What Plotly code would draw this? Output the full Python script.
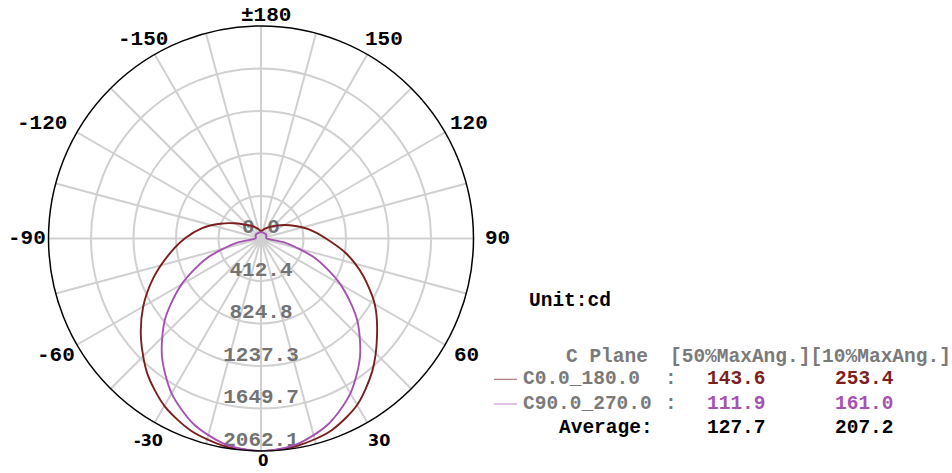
import plotly.graph_objects as go

# ---------------- data ----------------
theta_deg = [-180, -170, -160, -150, -140, -130, -120, -110, -100, -90,
             -80, -70, -60, -50, -40, -30, -20, -10, 0,
             10, 20, 30, 40, 50, 60, 70, 80, 90,
             100, 110, 120, 130, 140, 150, 160, 170, 180]

c0_180 = [70, 85, 105, 130, 165, 210, 295, 420, 580, 740,
          910, 1110, 1320, 1520, 1715, 1875, 1985, 2045, 2062,
          2042, 1985, 1865, 1680, 1470, 1275, 1055, 840, 630,
          485, 355, 262, 195, 150, 120, 100, 82, 70]

c90_270 = [60, 60, 60, 60, 62, 62, 60, 55, 50, 55,
           235, 560, 890, 1215, 1495, 1735, 1915, 2025, 2062,
           2025, 1915, 1735, 1495, 1215, 890, 560, 235, 55,
           50, 55, 60, 62, 62, 60, 60, 60, 60]

radial_ticks = [0.0, 412.4, 824.8, 1237.3, 1649.7, 2062.1]
radial_labels = ["0.0", "412.4", "824.8", "1237.3", "1649.7", "2062.1"]

ang_gridvals = list(range(0, 360, 15))
ang_label_text = ["0", "30", "60", "90", "120", "150", "±180",
                  "-150", "-120", "-90", "-60", "-30"]

unit_text = "Unit:cd"
header_plane = "C Plane"
header_cols = "[50%MaxAng.][10%MaxAng.]"
series_names = ["C0.0_180.0", "C90.0_270.0"]
beam50 = ["143.6", "111.9"]
beam10 = ["253.4", "161.0"]
avg_label = "Average:"
avg50 = "127.7"
avg10 = "207.2"

# ---------------- styles ----------------
W, H = 952, 473
FONT = "Liberation Mono"
RED = "#7b1f1f"
PURPLE = "#a652b2"
GRID = "#d0d0d0"
LABEL_GRAY = "#737373"
TEXT_GRAY = "#7a7a7a"

cx, cy, R = 261.0, 238.5, 212.5

# label placement offsets (pixels from the polar centre), one per angular label
ang_label_offset = [(2, 222), (117.5, 201.5), (205.7, 117), (236, 0.5),
                    (207.5, -115.5), (123, -198.7), (5, -223.5),
                    (-118.5, -198.7), (-219, -115.5), (-234.5, 0.5),
                    (-205.5, 116.5), (-112.5, 201.5)]
ang_label_font = {"0": ("DejaVu Sans", 15, "bold"),
                  "30": ("DejaVu Sans", 16, "bold"),
                  "-30": ("DejaVu Sans", 16, "bold")}

fig = go.Figure()

# radial value labels along the 0° spoke
fig.add_trace(go.Scatterpolar(
    r=radial_ticks, theta=[0] * len(radial_ticks), mode="text",
    text=radial_labels, textposition="top center",
    textfont=dict(family=FONT, size=21, color=LABEL_GRAY, weight="bold"),
    hoverinfo="skip", showlegend=False))

fig.add_trace(go.Scatterpolar(
    r=c0_180, theta=theta_deg, mode="lines", name=series_names[0],
    line=dict(color=RED, width=1.9, shape="spline", smoothing=0.8),
    showlegend=False))
fig.add_trace(go.Scatterpolar(
    r=c90_270, theta=theta_deg, mode="lines", name=series_names[1],
    line=dict(color=PURPLE, width=1.9, shape="spline", smoothing=0.8),
    showlegend=False))

fig.update_layout(
    width=W, height=H,
    margin=dict(l=0, r=0, t=0, b=0),
    paper_bgcolor="white",
    polar=dict(
        domain=dict(x=[(cx - R) / W, (cx + R) / W],
                    y=[(H - cy - R) / H, (H - cy + R) / H]),
        bgcolor="white",
        radialaxis=dict(range=[0, radial_ticks[-1]], tickvals=radial_ticks[1:],
                        showticklabels=False, ticks="", showline=False,
                        gridcolor=GRID, gridwidth=1.5),
        angularaxis=dict(rotation=-90, direction="counterclockwise",
                         tickvals=ang_gridvals, showticklabels=False,
                         ticks="", showline=True, linecolor="black", linewidth=1.5,
                         gridcolor=GRID, gridwidth=1.5),
    ),
)


def px(x):
    return x / W


def py(y):
    return 1 - y / H


def note(text, x, y, color, anchor="left", size=19.5, family=FONT, weight="bold"):
    fig.add_annotation(text=text, x=px(x), y=py(y), xref="paper", yref="paper",
                       xanchor=anchor, yanchor="middle", showarrow=False, borderpad=0,
                       font=dict(family=family, size=size, color=color, weight=weight))


# angular tick labels around the rim (0 at bottom, counter-clockwise)
for txt, (dx, dy) in zip(ang_label_text, ang_label_offset):
    fam, size, weight = ang_label_font.get(txt, (FONT, 21, "bold"))
    note(txt, cx + dx, cy + dy, "black", anchor="center", size=size,
         family=fam, weight=weight)

row_y = [379.3, 404.0]
note(unit_text, 528, 300.7, "black")
note(header_plane, 565, 356.7, TEXT_GRAY)
note(header_cols, 669, 356.7, TEXT_GRAY)
for i, col in enumerate([RED, PURPLE]):
    note(series_names[i], 522, row_y[i], TEXT_GRAY)
    note(":", 670.7, row_y[i], TEXT_GRAY, anchor="center")
    note(beam50[i], 706, row_y[i], col)
    note(beam10[i], 834, row_y[i], col)
    fig.add_shape(type="line", xref="paper", yref="paper",
                  x0=px(494), x1=px(517), y0=py(row_y[i]), y1=py(row_y[i]),
                  line=dict(color=col, width=1), opacity=0.7)
note(avg_label, 558, 428.3, "black")
note(avg50, 706, 428.3, "black")
note(avg10, 834, 428.3, "black")

fig.write_html("out.html", config={"displayModeBar": False},
               post_script="document.body.style.margin='0';document.body.style.padding='0';")
